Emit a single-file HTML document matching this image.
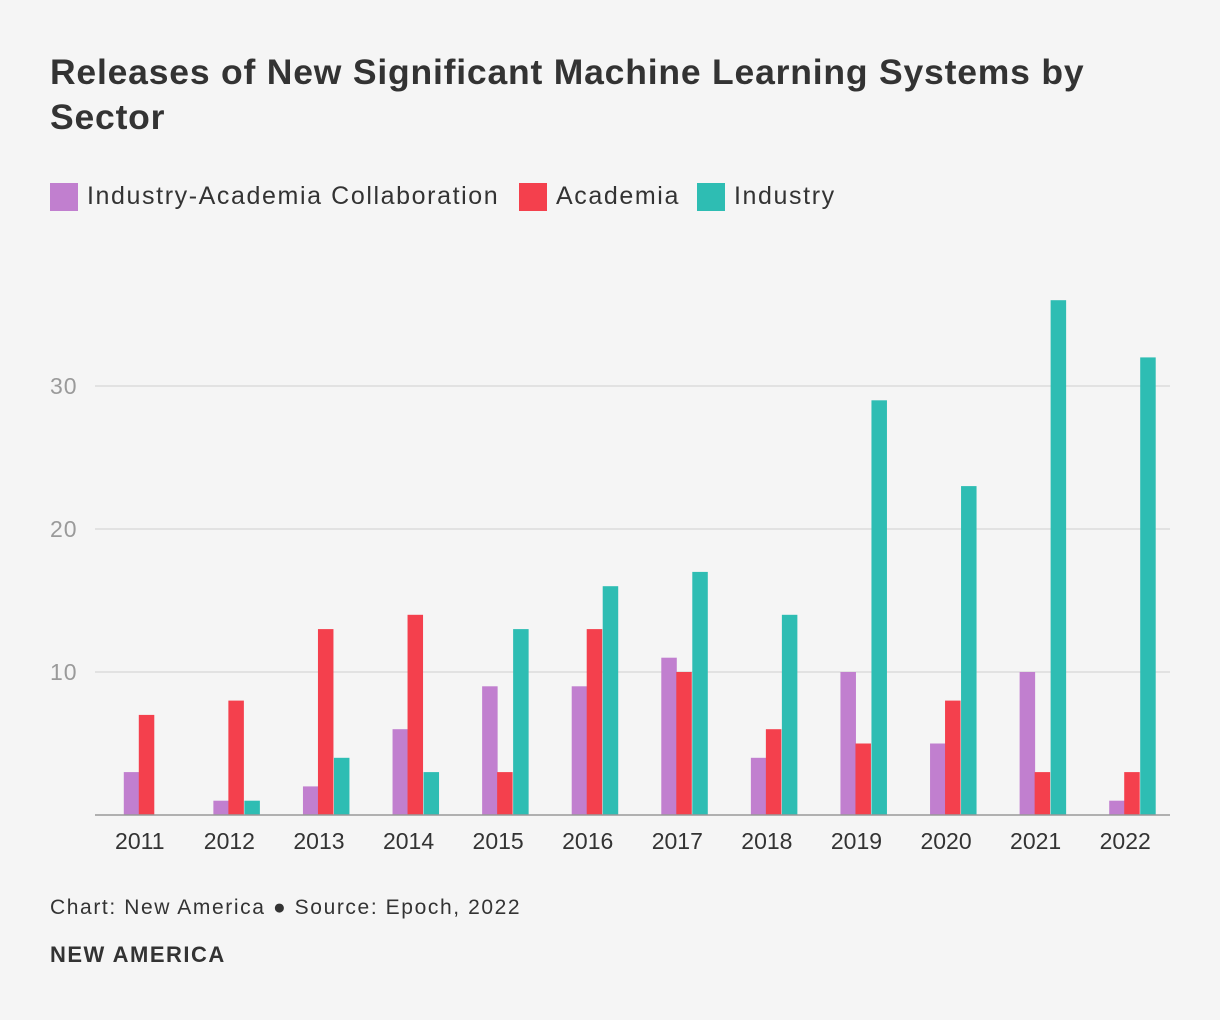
<!DOCTYPE html>
<html><head><meta charset="utf-8"><style>
body{margin:0;background:#f5f5f5;font-family:"Liberation Sans",sans-serif;color:#333;}
#wrap{position:relative;width:1220px;height:1020px;overflow:hidden;}
h1{position:absolute;left:50px;top:50px;margin:0;font-size:35.5px;line-height:45px;font-weight:bold;color:#333;width:1100px;letter-spacing:0.8px;}
.leg{position:absolute;top:182px;font-size:25px;display:flex;align-items:center;letter-spacing:1.6px;}
.sw{width:28px;height:28px;margin-right:9px;display:inline-block;}
.foot{position:absolute;left:50px;top:896px;font-size:21px;color:#333;letter-spacing:1.6px;}
.brand{position:absolute;left:50px;top:942px;font-size:22px;font-weight:bold;color:#333;letter-spacing:1.5px;}
</style></head><body>
<div id="wrap">
<h1>Releases of New Significant Machine Learning Systems by Sector</h1>
<div class="leg" style="left:50px"><span class="sw" style="background:#c17fcf"></span>Industry-Academia Collaboration</div>
<div class="leg" style="left:519px"><span class="sw" style="background:#f4404d"></span>Academia</div>
<div class="leg" style="left:697px"><span class="sw" style="background:#2ebdb3"></span>Industry</div>
<svg id="chart" width="1220" height="1020" style="position:absolute;left:0;top:0"></svg>
<div class="foot">Chart: New America ● Source: Epoch, 2022</div>
<div class="brand">NEW AMERICA</div>
</div>
<script>
const years=["2011","2012","2013","2014","2015","2016","2017","2018","2019","2020","2021","2022"];
const collab=[3,1,2,6,9,9,11,4,10,5,10,1];
const academia=[7,8,13,14,3,13,10,6,5,8,3,3];
const industry=[0,1,4,3,13,16,17,14,29,23,36,32];
const yTicks=[10,20,30];
const NS="http://www.w3.org/2000/svg";
const svg=document.getElementById('chart');
const x0=95,x1=1170,y0=815,ppu=14.3;
const band=(x1-x0)/years.length;
const y=v=>y0-v*ppu;
const cx=i=>x0+band*(i+0.5);
function mk(t,a){const e=document.createElementNS(NS,t);for(const k in a)e.setAttribute(k,a[k]);svg.appendChild(e);return e;}
yTicks.forEach(t=>{
 const l=mk('line',{x1:x0,x2:x1,y1:y(t),y2:y(t),stroke:'#dcdcdc','stroke-width':1.5});
 
 
 const tx=mk('text',{x:50,y:y(t)+8,'font-size':23,fill:'#9a9a9a','font-family':'Liberation Sans, sans-serif','letter-spacing':1});
 tx.textContent=t;
 
 
});
const series=[[collab,'#c17fcf',-16,'collab'],[academia,'#f4404d',-1,'academia'],[industry,'#2ebdb3',15,'industry']];
years.forEach((yr,i)=>{
 series.forEach(([arr,c,off,n])=>{
  const v=arr[i]; if(!v)return;
  const r=mk('rect',{x:cx(i)+off,y:y(v),width:15.5,height:v*ppu,fill:c});
  
  
 });
 const tx=mk('text',{x:cx(i),y:849,'font-size':23,fill:'#333','text-anchor':'middle','font-family':'Liberation Sans, sans-serif'});
 tx.textContent=yr;
 
 
});
const ax=mk('line',{x1:x0,x2:x1,y1:y0,y2:y0,stroke:'#999','stroke-width':1.5});


</script>
</body></html>
